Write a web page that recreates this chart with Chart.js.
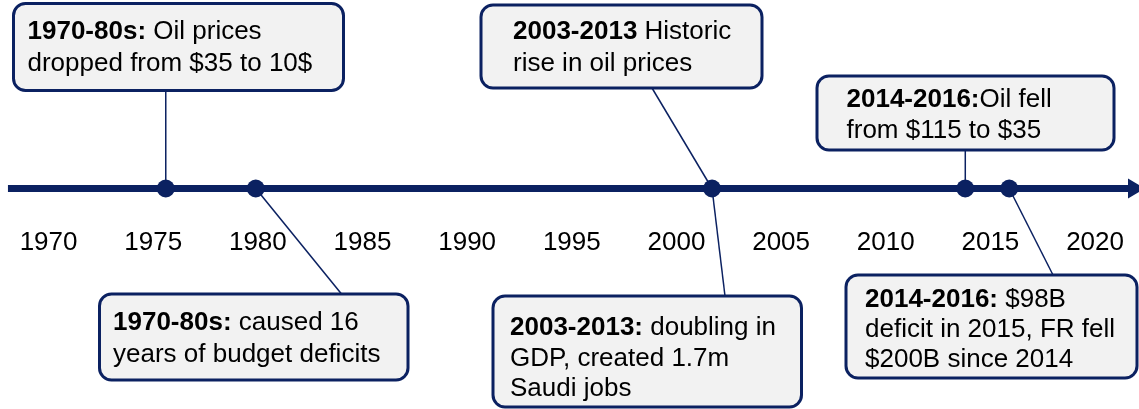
<!DOCTYPE html>
<html>
<head>
<meta charset="utf-8">
<script src="https://cdn.jsdelivr.net/npm/chart.js@4.4.0/dist/chart.umd.min.js"></script>
<style>
    html, body { margin: 0; padding: 0; background: #ffffff; }
    canvas { display: block; }
</style>
</head>
<body>
<canvas id="timelineChart" width="1139" height="409"></canvas>
<script>
// tick labels on the time axis
const yearTicks = [1970, 1975, 1980, 1985, 1990, 1995, 2000, 2005, 2010, 2015, 2020];

// event markers on the time axis (years)
const eventYears = [1975.6, 1979.9, 2001.7, 2013.8, 2015.9];

// start and end of the arrow line
const timelineStart = 1968.06;
const timelineEnd = 2021.85;

// callout texts: bold lead, rest of the first line, then following lines
const calloutBold = ['1970-80s:', '2003-2013', '2014-2016:', '1970-80s:', '2003-2013:', '2014-2016:'];
const calloutLines = [
    [' Oil prices', 'dropped from $35 to 10$'],
    [' Historic', 'rise in oil prices'],
    ['Oil fell', 'from $115 to $35'],
    [' caused 16', 'years of budget deficits'],
    [' doubling in', 'GDP, created 1.7m', 'Saudi jobs'],
    [' $98B', 'deficit in 2015, FR fell', '$200B since 2014']
];
// which event each callout points at
const calloutEvent = [0, 2, 3, 1, 2, 4];

// box placement in pixels (ax = null -> connector goes straight up/down from the dot)
const calloutBoxes = [
    {x: 13.5, y: 3.5, w: 330, h: 87, tx: 27.5, ty: 39, lh: 32, ax: null, ay: 90},
    {x: 481, y: 5, w: 281, h: 83, tx: 513, ty: 39, lh: 32, ax: 652, ay: 88},
    {x: 817, y: 76, w: 297, h: 74, tx: 846.5, ty: 107, lh: 31, ax: null, ay: 150},
    {x: 99.5, y: 294, w: 308.5, h: 86, tx: 113, ty: 330, lh: 32, ax: 341.5, ay: 294},
    {x: 493, y: 296, w: 308.5, h: 111, tx: 510, ty: 335, lh: 30.5, ax: 725, ay: 296},
    {x: 846, y: 275, w: 291, h: 103, tx: 865, ty: 307, lh: 30, ax: 1053, ay: 275}
];

const navy = '#0b2161';
const fontFamily = '"Liberation Sans", Arial, sans-serif';

function roundedBox(ctx, x, y, w, h, r) {
    ctx.beginPath();
    ctx.moveTo(x + r, y);
    ctx.lineTo(x + w - r, y);
    ctx.arcTo(x + w, y, x + w, y + r, r);
    ctx.lineTo(x + w, y + h - r);
    ctx.arcTo(x + w, y + h, x + w - r, y + h, r);
    ctx.lineTo(x + r, y + h);
    ctx.arcTo(x, y + h, x, y + h - r, r);
    ctx.lineTo(x, y + r);
    ctx.arcTo(x, y, x + r, y, r);
    ctx.closePath();
}

const calloutPlugin = {
    id: 'callouts',
    beforeDatasetsDraw(chart) {
        // connectors from the dots to the boxes
        const ctx = chart.ctx;
        const py = chart.scales.y.getPixelForValue(0);
        ctx.save();
        ctx.strokeStyle = navy;
        ctx.lineWidth = 1.5;
        calloutBoxes.forEach((b, i) => {
            const px = chart.scales.x.getPixelForValue(eventYears[calloutEvent[i]]);
            ctx.beginPath();
            ctx.moveTo(px, py);
            ctx.lineTo(b.ax === null ? px : b.ax, b.ay);
            ctx.stroke();
        });
        ctx.restore();
    },
    afterDatasetsDraw(chart) {
        const ctx = chart.ctx;
        ctx.save();
        calloutBoxes.forEach((b, i) => {
            roundedBox(ctx, b.x, b.y, b.w, b.h, 12);
            ctx.fillStyle = '#f2f2f2';
            ctx.fill();
            ctx.lineWidth = 3;
            ctx.strokeStyle = navy;
            ctx.stroke();

            ctx.fillStyle = '#000000';
            ctx.textBaseline = 'alphabetic';
            ctx.textAlign = 'left';
            ctx.font = 'bold 26px ' + fontFamily;
            ctx.fillText(calloutBold[i], b.tx, b.ty);
            const boldWidth = ctx.measureText(calloutBold[i]).width;
            ctx.font = '26px ' + fontFamily;
            calloutLines[i].forEach((line, k) => {
                const x = k === 0 ? b.tx + boldWidth : b.tx;
                ctx.fillText(line, x, b.ty + k * b.lh);
            });
        });
        ctx.restore();
    }
};

const ctx = document.getElementById('timelineChart').getContext('2d');

new Chart(ctx, {
    type: 'scatter',
    data: {
        datasets: [{
            label: 'events',
            data: eventYears.map(v => ({x: v, y: 0})),
            pointRadius: 9,
            pointHoverRadius: 9,
            backgroundColor: navy,
            borderColor: navy,
            borderWidth: 0,
            clip: false,
            order: 0
        }, {
            label: 'timeline',
            type: 'line',
            data: [{x: timelineStart, y: 0}, {x: timelineEnd, y: 0}],
            borderColor: navy,
            borderWidth: 7,
            pointRadius: [0, 11.5],
            pointHoverRadius: [0, 11.5],
            pointStyle: 'triangle',
            pointRotation: 90,
            pointBackgroundColor: navy,
            pointBorderWidth: 0,
            clip: false,
            order: 1
        }]
    },
    options: {
        responsive: false,
        devicePixelRatio: 1,
        animation: false,
        events: [],
        layout: {padding: 0, autoPadding: false},
        plugins: {
            legend: {display: false},
            tooltip: {enabled: false}
        },
        scales: {
            x: {
                type: 'linear',
                min: 1967.68,
                max: 2022.1,
                position: {y: 0},
                afterBuildTicks: scale => {
                    scale.ticks = yearTicks.map(v => ({value: v}));
                },
                grid: {display: false, drawTicks: true, tickLength: 39},
                border: {display: false},
                ticks: {
                    padding: 0,
                    autoSkip: false,
                    maxRotation: 0,
                    color: '#000000',
                    font: {size: 26, family: fontFamily},
                    callback: value => String(value)
                }
            },
            y: {
                type: 'linear',
                min: -220.5,
                max: 188.5,
                display: false
            }
        }
    },
    plugins: [calloutPlugin]
});
</script>
</body>
</html>
